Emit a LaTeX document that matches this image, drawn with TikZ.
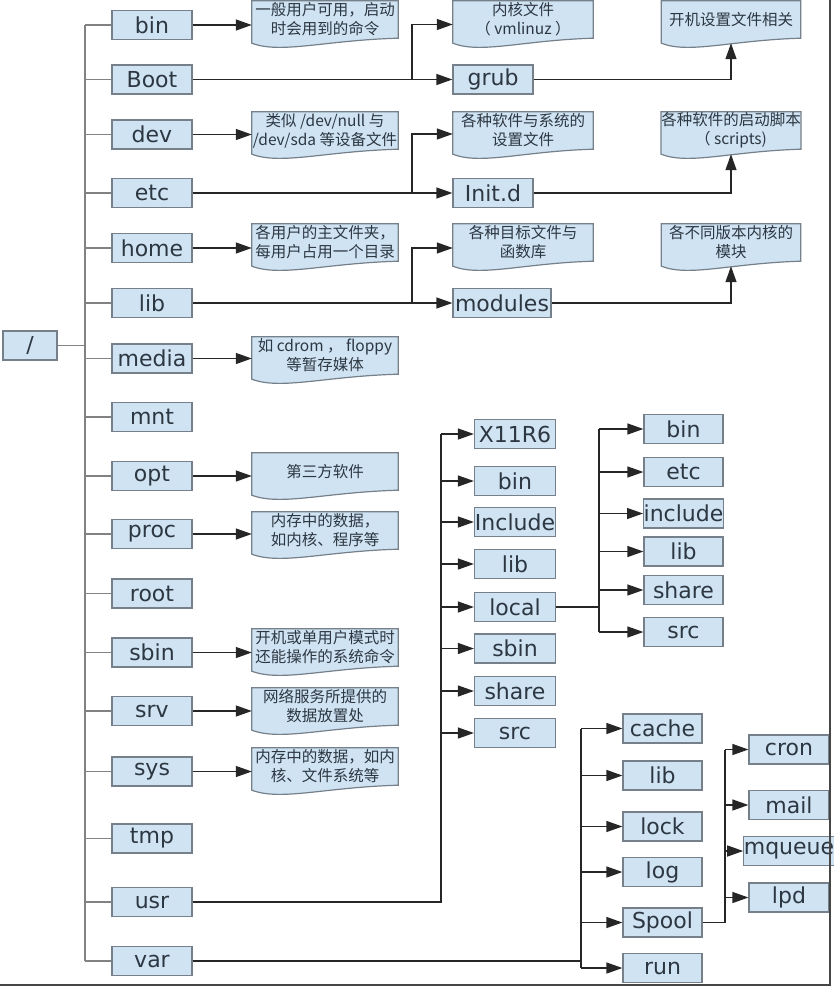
\documentclass[tikz,border=0pt]{standalone}
\usepackage{fontspec}
\setmainfont{DejaVu Sans}
\newfontfamily\cjk{Noto Sans CJK SC}
\usepackage{xcolor}
\usepackage{tikz}
\usetikzlibrary{positioning, arrows.meta, calc, backgrounds}
\definecolor{boxblue}{RGB}{207,227,243}
\definecolor{boxline}{RGB}{118,128,138}
\definecolor{inkgray}{RGB}{45,55,65}
\definecolor{trunkgray}{RGB}{130,130,130}
\definecolor{framegray}{RGB}{70,70,70}

\begin{document}
\begin{tikzpicture}[x=1pt, y=-1pt,
    % Node styles
    dir/.style={rectangle, draw=boxline, fill=boxblue, line width=1.2pt, minimum width=80pt, minimum height=29pt, inner sep=0pt, text=inkgray, font=\fontsize{22}{26}\selectfont},
    note/.style={rectangle, minimum width=146pt, minimum height=37pt, inner sep=0pt, align=center, text=inkgray, font=\cjk\fontsize{15.5}{19}\selectfont},
    wave/.style={draw=boxline, fill=boxblue, line width=1.2pt},
    % Edge styles
    branch/.style={draw=trunkgray, line width=1.4pt},
    wire/.style={draw=black!85, line width=1.3pt},
    edge/.style={wire, -{Triangle[length=16pt,width=11pt]}}
]
\useasboundingbox (0,0) rectangle (834,988);

% Root
\node[dir, minimum width=54pt] (root) at (30,345.5) {/};

% Level 1 - Directories under /
\node[dir] (bin) at (152,25) {bin};
\node[dir] (boot) at (152,79.5) {Boot};
\node[dir] (dev) at (152,134.5) {dev};
\node[dir] (etc) at (152,193) {etc};
\node[dir] (home) at (152,248) {home};
\node[dir] (lib) at (152,303) {lib};
\node[dir] (media) at (152,358.5) {media};
\node[dir] (mnt) at (152,417) {mnt};
\node[dir] (opt) at (152,476) {opt};
\node[dir] (proc) at (152,534) {proc};
\node[dir] (rootdir) at (152,593.5) {root};
\node[dir] (sbin) at (152,652.5) {sbin};
\node[dir] (srv) at (152,711) {srv};
\node[dir] (sys) at (152,771.5) {sys};
\node[dir] (tmp) at (152,838.5) {tmp};
\node[dir] (usr) at (152,902) {usr};
\node[dir] (var) at (152,961) {var};

% Level 1 - Notes
\node[note] (binnote) at (325,19.5) {一般用户可用，启动\\时会用到的命令};
\node[note] (devnote) at (325,130.5) {类似 /dev/null 与\\/dev/sda 等设备文件};
\node[note] (homenote) at (325,242.5) {各用户的主文件夹，\\每用户占用一个目录};
\node[note] (medianote) at (325,355.5) {如 cdrom ， floppy\\等暂存媒体};
\node[note] (optnote) at (325,471.5) {第三方软件};
\node[note] (procnote) at (325,530.5) {内存中的数据，\\如内核、程序等};
\node[note] (sbinnote) at (325,647.5) {开机或单用户模式时\\还能操作的系统命令};
\node[note] (srvnote) at (325,706.5) {网络服务所提供的\\数据放置处};
\node[note] (sysnote) at (325,766.5) {内存中的数据，如内\\核、文件系统等};

% Level 2 - Boot, etc, lib
\node[note, minimum width=140pt] (kernelnote) at (523,19.5) {内核文件\\（ vmlinuz ）};
\node[dir] (grub) at (493,79.5) {grub};
\node[note, minimum width=140pt] (etcnote) at (523,130.5) {各种软件与系统的\\设置文件};
\node[dir] (initd) at (493,193) {Init.d};
\node[note, minimum width=140pt] (libnote) at (523,242.5) {各种目标文件与\\函数库};
\node[dir, minimum width=98pt] (modules) at (502,303) {modules};

% Level 3 - Notes
\node[note, minimum width=139pt] (cfgnote) at (731,19.5) {开机设置文件相关};
\node[note, minimum width=139pt] (scriptnote) at (731,130.5) {各种软件的启动脚本\\（ scripts)};
\node[note, minimum width=139pt] (modnote) at (731,242.5) {各不同版本内核的\\模块};

% Level 2 - From usr
\node[dir, minimum width=81pt] (x11) at (515,434) {X11R6};
\node[dir, minimum width=81pt] (ubin) at (515,481) {bin};
\node[dir, minimum width=81pt] (uinclude) at (515,522) {Include};
\node[dir, minimum width=81pt] (ulib) at (515,564) {lib};
\node[dir, minimum width=81pt] (ulocal) at (515,607) {local};
\node[dir, minimum width=81pt] (usbin) at (515,648.5) {sbin};
\node[dir, minimum width=81pt] (ushare) at (515,691) {share};
\node[dir, minimum width=81pt] (usrc) at (515,733) {src};

% Level 3 - From local
\node[dir, minimum width=79pt] (lbin) at (683.5,429) {bin};
\node[dir, minimum width=79pt] (letc) at (683.5,472) {etc};
\node[dir, minimum width=79pt] (linclude) at (683.5,513.5) {include};
\node[dir, minimum width=79pt] (llib) at (683.5,551.5) {lib};
\node[dir, minimum width=79pt] (lshare) at (683.5,590) {share};
\node[dir, minimum width=79pt] (lsrc) at (683.5,632) {src};

% Level 2 - From var
\node[dir, minimum width=79pt] (vcache) at (662.5,728.5) {cache};
\node[dir, minimum width=79pt] (vlib) at (662.5,775.5) {lib};
\node[dir, minimum width=79pt] (vlock) at (662.5,826.5) {lock};
\node[dir, minimum width=79pt] (vlog) at (662.5,872) {log};
\node[dir, minimum width=79pt] (vspool) at (662.5,922.5) {Spool};
\node[dir, minimum width=79pt] (vrun) at (662.5,968) {run};

% Level 3 - From Spool
\node[dir] (cron) at (789,749.5) {cron};
\node[dir] (mail) at (789,805) {mail};
\node[dir] (mqueue) at (789,851) {mqueue};
\node[dir] (lpd) at (789,897.5) {lpd};

% Note outlines
\begin{scope}[on background layer]
\foreach \n in {binnote, devnote, homenote, medianote, optnote, procnote, sbinnote, srvnote, sysnote, kernelnote, etcnote, libnote, cfgnote, scriptnote, modnote}
  \draw[wave] (\n.north west) -- (\n.north east) -- (\n.south east)
    .. controls ($(\n.south east)!0.5!(\n.south west)+(0,2)$) and ($(\n.south east)!0.8!(\n.south west)+(0,16)$) .. ($(\n.south west)+(0,5)$) -- cycle;
\end{scope}

% Bus points
\coordinate (roottop) at (85,25);
\coordinate (rootbot) at (85,961);
\coordinate (bootfork) at (412,79.5);
\coordinate (kernelin) at (412,24.5);
\coordinate (etcfork) at (412,193);
\coordinate (etcin) at (412,134);
\coordinate (libfork) at (412,303);
\coordinate (libin) at (412,248);
\coordinate (usrbus) at (441,434);
\coordinate (localtop) at (599,429);
\coordinate (localbot) at (599,632);
\coordinate (vartop) at (581,728.5);
\coordinate (varbot) at (581,968);
\coordinate (spooltop) at (725,749.5);

% Draw the tree of /
\draw[branch] (roottop) -- (rootbot);
\draw[branch] (root.east) -- (root.east -| roottop);
\foreach \n in {bin, boot, dev, etc, home, lib, media, mnt, opt, proc, rootdir, sbin, srv, sys, tmp, usr, var}
  \draw[branch] (roottop |- \n) -- (\n.west);

% Draw all edges to notes
\foreach \n in {bin, dev, home, media, opt, proc, sbin, srv, sys}
  \draw[edge] (\n.east) -- (\n.east -| \n note.west);

\draw[edge] (boot) -- (grub);
\draw[edge] (bootfork) -- (kernelin) -- (kernelin -| kernelnote.west);
\draw[edge] (grub.east) -| ([yshift=-5pt]cfgnote.south);

\draw[edge] (etc) -- (initd);
\draw[edge] (etcfork) -- (etcin) -- (etcin -| etcnote.west);
\draw[edge] (initd.east) -| ([yshift=-5pt]scriptnote.south);

\draw[edge] (lib) -- (modules);
\draw[edge] (libfork) -- (libin) -- (libin -| libnote.west);
\draw[edge] (modules.east) -| ([yshift=-5pt]modnote.south);

% usr
\draw[wire] (usr.east) -| (usrbus);
\foreach \n in {x11, ubin, uinclude, ulib, ulocal, usbin, ushare, usrc}
  \draw[edge] (usrbus |- \n) -- (\n.west);

% local
\draw[wire] (localtop) -- (localbot);
\draw[wire] (ulocal.east) -- (ulocal.east -| localtop);
\foreach \n in {lbin, letc, linclude, llib, lshare, lsrc}
  \draw[edge] (localtop |- \n) -- (\n.west);

% var
\draw[wire] (vartop) -- (varbot);
\draw[wire] (var.east) -- (var.east -| vartop);
\foreach \n in {vcache, vlib, vlock, vlog, vspool, vrun}
  \draw[edge] (vartop |- \n) -- (\n.west);

% Spool
\draw[wire] (vspool.east) -| (spooltop);
\foreach \n in {cron, mail, mqueue, lpd}
  \draw[edge] (spooltop |- \n) -- (\n.west);

% Frame
\draw[framegray, line width=2.5pt] (0,985) -- (830,985) -- (830,0);

\end{tikzpicture}
\end{document}
